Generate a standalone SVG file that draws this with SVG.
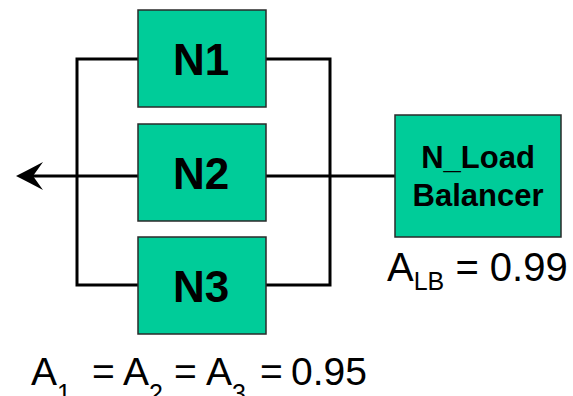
<svg xmlns="http://www.w3.org/2000/svg" width="573" height="396" viewBox="0 0 573 396">
  <defs>
    <style>
      .node { fill: #00cc99; stroke: #2a2a2a; stroke-width: 1.5; }
      .lbl { font-family: "Liberation Sans", Arial, sans-serif; font-weight: bold; fill: #000; text-anchor: middle; }
      .big { font-size: 44px; }
      .wire { fill: none; stroke: #000; stroke-width: 3; }
      .eq { font-family: "Liberation Sans", Arial, sans-serif; fill: #000; }
    </style>
    <!-- concave arrowhead; tip at x=27, notch at x=10 -->
    <marker id="head" viewBox="0 0 27 28" refX="10" refY="14" markerWidth="27" markerHeight="28" markerUnits="userSpaceOnUse" orient="auto">
      <path d="M0,0 Q15,8 27,14 Q15,20 0,28 L10,14 Z" fill="#000"/>
    </marker>
  </defs>

  <g id="connectors">
    <!-- parallel bus on the left and right of N1..N3 -->
    <polyline class="wire" points="138,59 77,59 77,285 138,285"/>
    <polyline class="wire" points="266,59 330,59 330,285 266,285"/>
    <!-- load balancer feed, through N2, out to the arrow -->
    <line class="wire" x1="395" y1="176" x2="266" y2="176"/>
    <line class="wire" x1="138" y1="176" x2="33" y2="176" marker-end="url(#head)"/>
  </g>

  <g id="n1">
    <rect class="node" x="138" y="10" width="128" height="97"/>
    <text class="lbl big" x="201" y="75">N1</text>
  </g>
  <g id="n2">
    <rect class="node" x="138" y="124" width="128" height="97"/>
    <text class="lbl big" x="201" y="189">N2</text>
  </g>
  <g id="n3">
    <rect class="node" x="138" y="237" width="128" height="97"/>
    <text class="lbl big" x="201" y="302">N3</text>
  </g>
  <g id="lb">
    <rect class="node" x="395" y="115" width="166" height="122"/>
    <text class="lbl" x="478" y="168" font-size="31">N_Load</text>
    <text class="lbl" x="478" y="206" font-size="31">Balancer</text>
  </g>

  <text class="eq" x="387" y="281" font-size="40">A<tspan font-size="25" dy="9">LB</tspan><tspan dy="-9"> = 0.99</tspan></text>
  <text class="eq" x="31" y="385" font-size="39">A<tspan font-size="25" dy="17">1</tspan><tspan dy="-17" x="92">=</tspan><tspan x="123">A</tspan><tspan font-size="25" dy="17">2</tspan><tspan dy="-17" x="174">=</tspan><tspan x="206">A</tspan><tspan font-size="25" dy="17">3</tspan><tspan dy="-17" x="260">=</tspan><tspan x="291">0.95</tspan></text>
</svg>
